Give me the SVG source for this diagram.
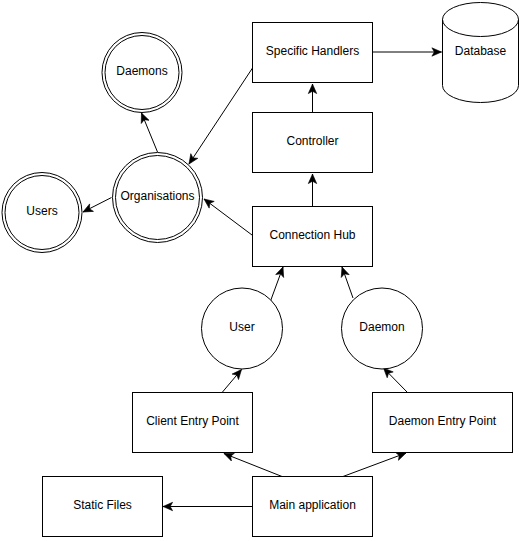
<svg xmlns="http://www.w3.org/2000/svg" width="519" height="541" viewBox="0 0 519 541">
  <style>
    .box { fill: #ffffff; stroke: #000000; stroke-width: 1; }
    .ring { fill: #ffffff; stroke: #000000; stroke-width: 1; }
    .edge { fill: none; stroke: #000000; stroke-width: 1; marker-end: url(#arrow); }
    text { font-family: "Liberation Sans", Arial, Helvetica, sans-serif; font-size: 12px; fill: #000000; text-anchor: middle; dominant-baseline: central; }
  </style>
  <defs>
    <marker id="arrow" markerUnits="userSpaceOnUse" markerWidth="12" markerHeight="12" viewBox="0 0 10 10" refX="9" refY="5" orient="auto">
      <path d="M9,5 L1,1.5 L3,5 L1,8.5 Z" fill="#000000" stroke="#000000" stroke-width="0.5"/>
    </marker>
  </defs>
  <rect width="519" height="541" fill="#ffffff"/>

  <g id="connectors">
    <path class="edge" d="M372.5,52 L441.5,52"/>
    <path class="edge" d="M312.5,112 L312.5,84"/>
    <path class="edge" d="M312.5,206 L312.5,174"/>
    <path class="edge" d="M252.5,68 L189,164"/>
    <path class="edge" d="M252,235 L204,199"/>
    <path class="edge" d="M157.5,152 L141.5,113"/>
    <path class="edge" d="M111.5,197.5 L83,212"/>
    <path class="edge" d="M270.5,301 L283,267"/>
    <path class="edge" d="M353,298 L342,267"/>
    <path class="edge" d="M222.5,392 L241.5,369.5"/>
    <path class="edge" d="M407,392 L383.5,368"/>
    <path class="edge" d="M282,476.5 L224,453.5"/>
    <path class="edge" d="M343,476.5 L406,453"/>
    <path class="edge" d="M252.5,506.5 L163,506.5"/>
  </g>

  <g id="specific-handlers">
    <rect class="box" x="252.5" y="22.5" width="120" height="60"/>
    <text x="312.5" y="51">Specific Handlers</text>
  </g>
  <g id="database">
    <path class="box" d="M442.5,19.5 L442.5,85.5 A38,17 0 0 0 518.5,85.5 L518.5,19.5 A38,17 0 0 0 442.5,19.5 Z"/>
    <path fill="none" stroke="#000000" d="M442.5,19.5 A38,17 0 0 0 518.5,19.5"/>
    <text x="480.5" y="51">Database</text>
  </g>
  <g id="controller">
    <rect class="box" x="252.5" y="112.5" width="120" height="60"/>
    <text x="312.5" y="141">Controller</text>
  </g>
  <g id="connection-hub">
    <rect class="box" x="252.5" y="206.5" width="120" height="60"/>
    <text x="312.5" y="235">Connection Hub</text>
  </g>
  <g id="daemons">
    <circle class="ring" cx="142" cy="72.5" r="40"/>
    <circle class="ring" cx="142" cy="72.5" r="37"/>
    <text x="142" y="71">Daemons</text>
  </g>
  <g id="organisations">
    <circle class="ring" cx="157.5" cy="197.5" r="45"/>
    <circle class="ring" cx="157.5" cy="197.5" r="42"/>
    <text x="157.5" y="196">Organisations</text>
  </g>
  <g id="users">
    <circle class="ring" cx="42" cy="212.5" r="40"/>
    <circle class="ring" cx="42" cy="212.5" r="37"/>
    <text x="42" y="211">Users</text>
  </g>
  <g id="user">
    <circle class="ring" cx="242" cy="328.5" r="40.5"/>
    <text x="242" y="327">User</text>
  </g>
  <g id="daemon">
    <circle class="ring" cx="382" cy="328.5" r="40.5"/>
    <text x="382" y="327">Daemon</text>
  </g>
  <g id="client-entry-point">
    <rect class="box" x="132.5" y="392.5" width="120" height="60"/>
    <text x="192.5" y="421">Client Entry Point</text>
  </g>
  <g id="daemon-entry-point">
    <rect class="box" x="372.5" y="392.5" width="140" height="60"/>
    <text x="442.5" y="421">Daemon Entry Point</text>
  </g>
  <g id="static-files">
    <rect class="box" x="42.5" y="476.5" width="120" height="60"/>
    <text x="102.5" y="505">Static Files</text>
  </g>
  <g id="main-application">
    <rect class="box" x="252.5" y="476.5" width="120" height="60"/>
    <text x="312.5" y="505">Main application</text>
  </g>
</svg>
